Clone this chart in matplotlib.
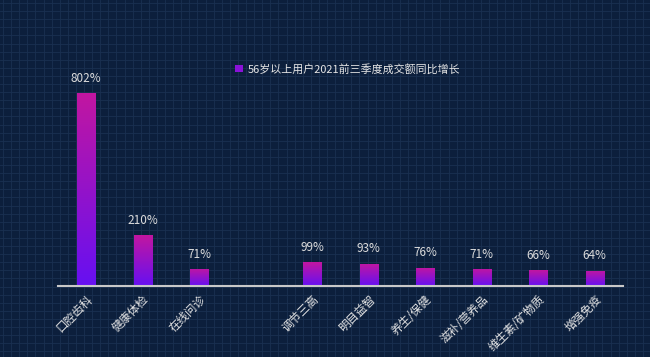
import numpy as np
import matplotlib.pyplot as plt
from matplotlib.patches import Patch

plt.rcParams['font.family'] = ['Noto Sans CJK SC', 'DejaVu Sans']

# data (empty slot between the two groups)
categories = ["口腔齿科", "健康体检", "在线问诊", "", "调节三高", "明目益智",
              "养生/保健", "滋补/营养品", "维生素/矿物质", "增强免疫"]
growth = [802, 210, 71, np.nan, 99, 93, 76, 71, 66, 64]
series_name = "56岁以上用户2021前三季度成交额同比增长"

bg = "#0c1f3c"
top_col = np.array([0xc2, 0x16, 0xa0]) / 255
bot_col = np.array([0x66, 0x10, 0xf2]) / 255

fig = plt.figure(figsize=(6.5, 3.57), dpi=100, facecolor=bg)

# background grid texture
bgax = fig.add_axes([0, 0, 1, 1], zorder=0)
bgax.set_xlim(0, 650)
bgax.set_ylim(357, 0)
bgax.set_facecolor(bg)
for gx in np.arange(3, 650, 8.1):
    bgax.axvline(gx, color="#1a3051", lw=0.6)
for gy in np.arange(3, 357, 8.1):
    bgax.axhline(gy, color="#1a3051", lw=0.6)
bgax.axis("off")

ax = fig.add_axes([58 / 650, 1 - 286 / 357, 565 / 650, 216.6 / 357], zorder=1)
ax.patch.set_alpha(0)
x = np.arange(len(categories))
bars = ax.bar(x, np.nan_to_num(growth), width=0.32, color="none", zorder=2)
ax.set_xlim(-0.5, len(categories) - 0.5)
ax.set_ylim(0, 900)

# vertical gradient in each bar
grad = np.linspace(0, 1, 256)[:, None, None]
img = bot_col * (1 - grad) + top_col * grad
for b in bars:
    if b.get_height() <= 0:
        continue
    im = ax.imshow(img, extent=[b.get_x(), b.get_x() + b.get_width(), 0, b.get_height()],
                   origin="lower", aspect="auto", zorder=2)
    im.set_clip_path(b)

labels = ["" if np.isnan(v) else f"{int(v)}%" for v in growth]
ax.bar_label(bars, labels=labels, padding=6, color="#dcdcdc", fontsize=8.5)

ax.set_xticks(x)
ax.set_xticklabels(categories, rotation=45, ha="right", rotation_mode="anchor",
                   color="#e6e6e6", fontsize=8.3)
ax.tick_params(axis="x", length=0, pad=5)
ax.set_yticks([])
for s in ["top", "right", "left"]:
    ax.spines[s].set_visible(False)
ax.spines["bottom"].set_color("#c8c8c8")
ax.spines["bottom"].set_linewidth(1.5)

handle = Patch(facecolor="#8a12d8", edgecolor="none")
fig.legend([handle], [series_name], loc="center", bbox_to_anchor=(0.535, 1 - 69 / 357),
           frameon=False, labelcolor="#e6e6e6", fontsize=7.9,
           handlelength=0.7, handleheight=0.7, handletextpad=0.4)

fig.savefig("out.png", dpi=100, facecolor=bg)
